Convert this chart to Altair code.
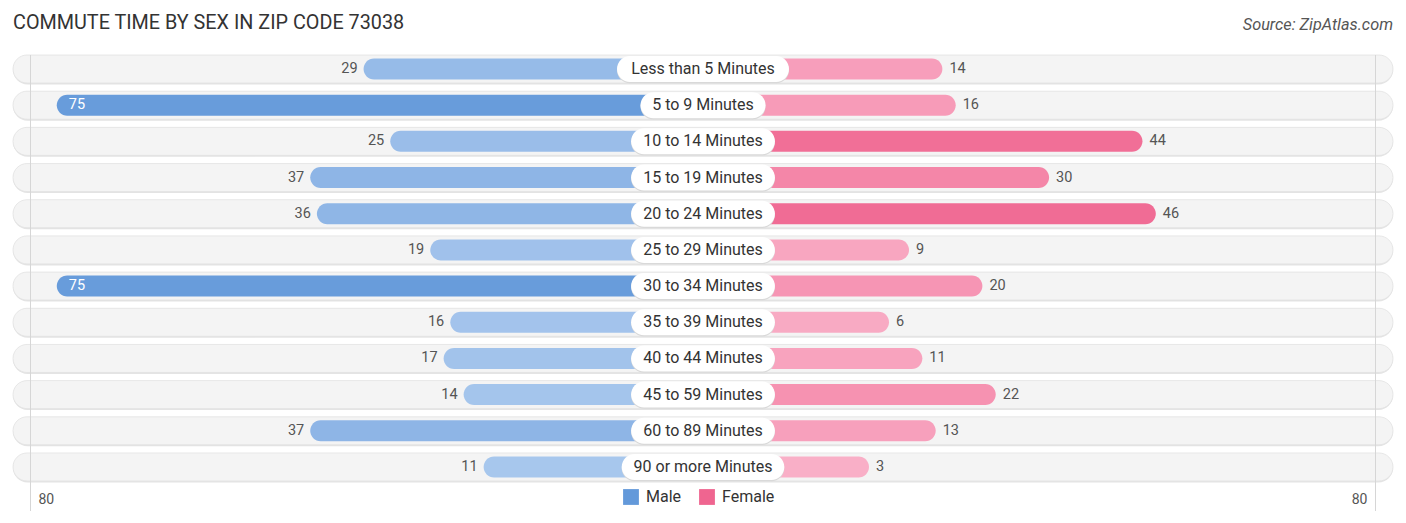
import altair as alt
import pandas as pd

# ---- data ----
categories = [
    "Less than 5 Minutes", "5 to 9 Minutes", "10 to 14 Minutes", "15 to 19 Minutes",
    "20 to 24 Minutes", "25 to 29 Minutes", "30 to 34 Minutes", "35 to 39 Minutes",
    "40 to 44 Minutes", "45 to 59 Minutes", "60 to 89 Minutes", "90 or more Minutes",
]
male = [29, 75, 25, 37, 36, 19, 75, 16, 17, 14, 37, 11]
female = [14, 16, 44, 30, 46, 9, 20, 6, 11, 22, 13, 3]
legend_labels = ["Male", "Female"]
axis_labels = ["80", "80"]
title_text = "COMMUTE TIME BY SEX IN ZIP CODE 73038"
source_text = "Source: ZipAtlas.com"

# ---- layout constants ----
W, H = 1390, 507
PX = 6.67                 # pixels per unit
D = (W / 2) / PX          # half domain
OFF = 146 / PX            # space for central label
BG_HALF = 690 / PX
GRID_HALF = 672.5 / PX
ROW_STEP = 36.18
FIRST_ROW = 61
FONT = "Roboto"

df = pd.DataFrame({
    "cat": categories,
    "row": list(range(len(categories))),
    "male": male,
    "female": female,
})

xs = alt.Scale(domain=[-D, D], nice=False, zero=False, padding=0)
ys = alt.Scale(domain=[-FIRST_ROW / ROW_STEP, (H - FIRST_ROW) / ROW_STEP],
               reverse=True, nice=False, zero=False, padding=0)

base = alt.Chart(df).transform_calculate(
    m_end=f"-({OFF} + datum.male)",
    f_end=f"{OFF} + datum.female",
    bg_l=f"-{BG_HALF}",
    bg_r=f"{BG_HALF}",
    zero="0",
    hw=f"(length(datum.cat) * 4.7 - 3.3) / {PX}",
    nhw="-datum.hw",
)

Y = alt.Y("row:Q", scale=ys, axis=None)

bg_shadow = base.mark_bar(size=29, cornerRadius=14.5, color="#e4e4e4", yOffset=1).encode(
    x=alt.X("bg_l:Q", scale=xs, axis=None), x2="bg_r:Q", y=Y)
bg = base.mark_bar(size=28, cornerRadius=14, color="#f4f4f4", stroke="#e2e2e2", strokeWidth=0.8).encode(
    x=alt.X("bg_l:Q", scale=xs, axis=None), x2="bg_r:Q", y=Y)

grid_df = pd.DataFrame({"g": [-GRID_HALF, GRID_HALF], "lab": axis_labels})
grid = alt.Chart(grid_df).mark_rule(color="#d6d6d6", strokeWidth=1).encode(
    x=alt.X("g:Q", scale=xs, axis=None), y=alt.value(47), y2=alt.value(503))

male_bars = base.mark_bar(size=21, cornerRadius=10.5).encode(
    x=alt.X("m_end:Q", scale=xs, axis=None), x2="zero:Q", y=Y,
    color=alt.Color("male:Q", scale=alt.Scale(domain=[0, 80], range=["#b2cef0", "#6399da"]), legend=None),
)
female_bars = base.mark_bar(size=21, cornerRadius=10.5).encode(
    x=alt.X("zero:Q", scale=xs, axis=None), x2="f_end:Q", y=Y,
    color=alt.Color("female:Q", scale=alt.Scale(domain=[0, 50], range=["#f9b3ca", "#ef6590"]), legend=None),
)

pill_shadow = base.mark_bar(size=26, cornerRadius=13, color="#d9d9d9", yOffset=1.2).encode(
    x=alt.X("nhw:Q", scale=xs, axis=None), x2="hw:Q", y=Y)
pill = base.mark_bar(size=26, cornerRadius=13, color="#ffffff").encode(
    x=alt.X("nhw:Q", scale=xs, axis=None), x2="hw:Q", y=Y)
cat_text = base.mark_text(font=FONT, fontSize=16, color="#333333", baseline="middle").encode(
    x=alt.X("zero:Q", scale=xs, axis=None), y=Y, text="cat:N")

male_out = base.transform_filter("datum.male < 60").mark_text(
    font=FONT, fontSize=14.5, color="#555555", align="right", dx=-6, baseline="middle").encode(
    x=alt.X("m_end:Q", scale=xs, axis=None), y=Y, text="male:Q")
male_in = base.transform_filter("datum.male >= 60").mark_text(
    font=FONT, fontSize=14.5, color="#ffffff", align="left", dx=12, baseline="middle").encode(
    x=alt.X("m_end:Q", scale=xs, axis=None), y=Y, text="male:Q")
female_out = base.mark_text(
    font=FONT, fontSize=14.5, color="#555555", align="left", dx=7, baseline="middle").encode(
    x=alt.X("f_end:Q", scale=xs, axis=None), y=Y, text="female:Q")

ax_left = alt.Chart(grid_df.iloc[[0]]).mark_text(
    font=FONT, fontSize=14, color="#555555", align="left", dx=8, baseline="alphabetic").encode(
    x=alt.X("g:Q", scale=xs, axis=None), y=alt.value(496), text="lab:N")
ax_right = alt.Chart(grid_df.iloc[[1]]).mark_text(
    font=FONT, fontSize=14, color="#555555", align="right", dx=-8, baseline="alphabetic").encode(
    x=alt.X("g:Q", scale=xs, axis=None), y=alt.value(496), text="lab:N")

title = alt.Chart(pd.DataFrame({"t": [title_text]})).mark_text(
    font=FONT, fontSize=19.8, color="#333333", align="left", baseline="alphabetic").encode(
    x=alt.value(5), y=alt.value(21), text="t:N")
source = alt.Chart(pd.DataFrame({"t": [source_text]})).mark_text(
    font=FONT, fontSize=16.3, fontStyle="italic", color="#555555", align="right", baseline="alphabetic").encode(
    x=alt.value(1385), y=alt.value(22), text="t:N")

leg_df = pd.DataFrame({"sex": legend_labels})
legend_layer = alt.Chart(leg_df).mark_square(opacity=0, filled=True).encode(
    x=alt.X(datum=0, scale=xs, axis=None),
    y=alt.Y(datum=0, scale=ys, axis=None),
    color=alt.Color("sex:N", sort=legend_labels,
                    scale=alt.Scale(domain=legend_labels, range=["#6399da", "#ef6590"]),
                    legend=alt.Legend(title=None, orient="none", direction="horizontal",
                                      legendX=615, legendY=481, symbolType="square",
                                      symbolSize=250, symbolOpacity=1, symbolStrokeWidth=0,
                                      labelFont=FONT, labelFontSize=16, labelColor="#333333",
                                      labelOffset=7, columnPadding=17)),
)

chart = alt.layer(
    bg_shadow, bg, grid, male_bars, female_bars, pill_shadow, pill, cat_text,
    male_out, male_in, female_out, ax_left, ax_right, title, source, legend_layer,
).resolve_scale(color="independent").properties(
    width=W, height=H, padding=0, background="#ffffff",
    autosize=alt.AutoSizeParams(type="none"),
).configure_view(stroke=None)

chart.save("out.html", embed_options={"renderer": "svg", "actions": False})
